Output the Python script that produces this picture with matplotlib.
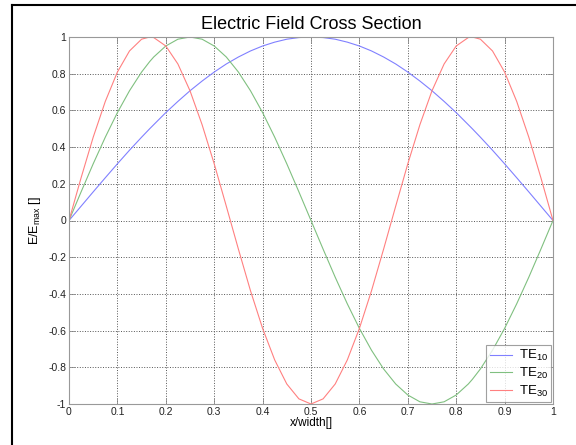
import matplotlib
matplotlib.use("Agg")
import matplotlib.pyplot as plt
from matplotlib.lines import Line2D

plt.rcParams['font.family'] = ['Liberation Sans', 'DejaVu Sans']
plt.rcParams['mathtext.fontset'] = 'custom'
plt.rcParams['mathtext.rm'] = 'Liberation Sans'
plt.rcParams['mathtext.it'] = 'Liberation Sans'

# x positions read along the width
x_pos = [0.000, 0.025, 0.050, 0.075, 0.100, 0.125, 0.150, 0.1667, 0.175, 0.200, 0.225,
         0.250, 0.275, 0.300, 0.325, 0.350, 0.375, 0.400, 0.425, 0.450, 0.475,
         0.500, 0.525, 0.550, 0.575, 0.600, 0.625, 0.650, 0.675, 0.700, 0.725,
         0.750, 0.775, 0.800, 0.825, 0.8333, 0.850, 0.875, 0.900, 0.925, 0.950, 0.975,
         1.000]

# normalised field values
te10 = [0.000, 0.078, 0.156, 0.233, 0.309, 0.383, 0.454, 0.500, 0.522, 0.588, 0.649,
        0.707, 0.760, 0.809, 0.853, 0.891, 0.924, 0.951, 0.972, 0.988, 0.997,
        1.000, 0.997, 0.988, 0.972, 0.951, 0.924, 0.891, 0.853, 0.809, 0.760,
        0.707, 0.649, 0.588, 0.522, 0.500, 0.454, 0.383, 0.309, 0.233, 0.156, 0.078,
        0.000]
te20 = [0.000, 0.156, 0.309, 0.454, 0.588, 0.707, 0.809, 0.866, 0.891, 0.951, 0.988,
        1.000, 0.988, 0.951, 0.891, 0.809, 0.707, 0.588, 0.454, 0.309, 0.156,
        0.000, -0.156, -0.309, -0.454, -0.588, -0.707, -0.809, -0.891, -0.951, -0.988,
        -1.000, -0.988, -0.951, -0.891, -0.866, -0.809, -0.707, -0.588, -0.454, -0.309, -0.156,
        0.000]
te30 = [0.000, 0.233, 0.454, 0.649, 0.809, 0.924, 0.988, 1.000, 0.997, 0.951, 0.853,
        0.707, 0.522, 0.309, 0.078, -0.156, -0.383, -0.588, -0.760, -0.891, -0.972,
        -1.000, -0.972, -0.891, -0.760, -0.588, -0.383, -0.156, 0.078, 0.309, 0.522,
        0.707, 0.853, 0.951, 0.997, 1.000, 0.988, 0.924, 0.809, 0.649, 0.454, 0.233,
        0.000]

labels = ['TE$_{10}$', 'TE$_{20}$', 'TE$_{30}$']
colors = ['#8080ff', '#80c080', '#ff8080']

fig = plt.figure(figsize=(5.76, 4.45), dpi=100)
ax = fig.add_axes([69 / 576, 1 - 404 / 445, (553 - 69) / 576, (404 - 37) / 445])

for ys, lab, c in zip([te10, te20, te30], labels, colors):
    ax.plot(x_pos, ys, color=c, lw=0.8, label=lab)

ax.set_xlim(0, 1)
ax.set_ylim(-1, 1)
ax.set_xticks([0, 0.1, 0.2, 0.3, 0.4, 0.5, 0.6, 0.7, 0.8, 0.9, 1])
ax.set_xticklabels(['0', '0.1', '0.2', '0.3', '0.4', '0.5', '0.6', '0.7', '0.8', '0.9', '1'])
ax.set_yticks([-1, -0.8, -0.6, -0.4, -0.2, 0, 0.2, 0.4, 0.6, 0.8, 1])
ax.set_yticklabels(['-1', '-0.8', '-0.6', '-0.4', '-0.2', '0', '0.2', '0.4', '0.6', '0.8', '1'])
ax.grid(True, linestyle=':', color='#555555', lw=0.7)
ax.tick_params(direction='in', length=4, width=0.6, color='#888888',
               labelsize=7.5, labelcolor='#222222', pad=2, top=True, right=True)
for s in ax.spines.values():
    s.set_color('#999999')
    s.set_linewidth(0.8)

ax.set_title('Electric Field Cross Section', fontsize=13, pad=6)
ax.set_xlabel('x/width[]', fontsize=8.5, labelpad=0)
ax.set_ylabel('E/E$_{max}$ []', fontsize=9, labelpad=4)

leg = ax.legend(loc='lower right', fontsize=9.5, frameon=True, fancybox=False,
                handlelength=1.7, handletextpad=0.5, borderpad=0.25,
                labelspacing=0.2, borderaxespad=0.15)
leg.get_frame().set_edgecolor('#888888')
leg.get_frame().set_linewidth(0.8)

# outer border lines on the top and left of the picture
fig.add_artist(Line2D([12 / 576, 1], [1 - 5 / 445, 1 - 5 / 445], color='black', lw=1.5))
fig.add_artist(Line2D([12 / 576, 12 / 576], [0, 1 - 5 / 445], color='black', lw=1.5))

fig.savefig('out.png', dpi=100)
